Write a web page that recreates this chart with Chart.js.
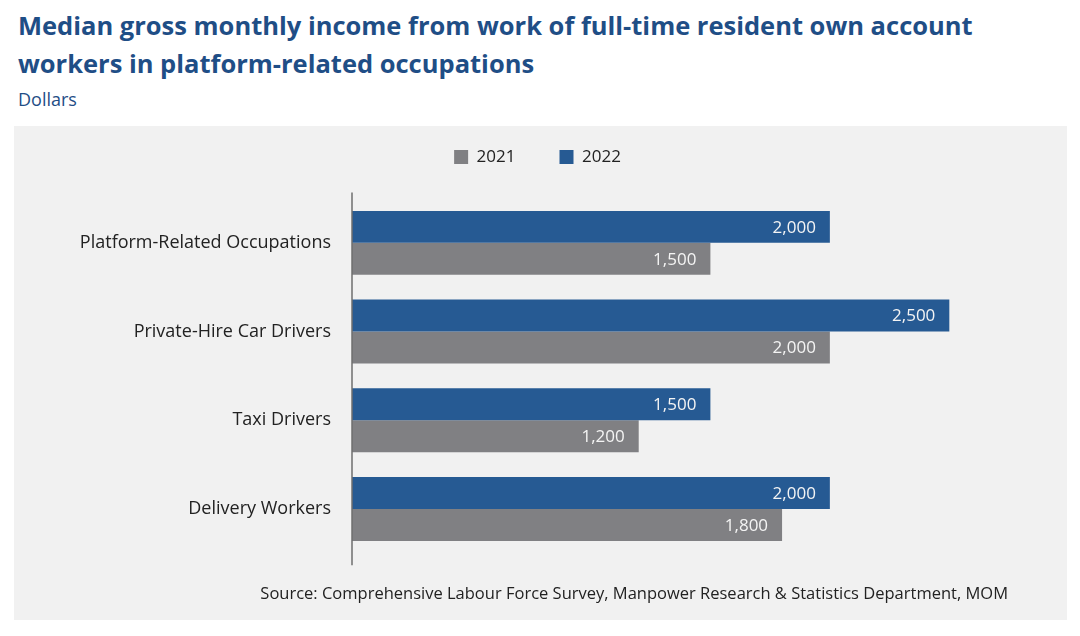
<!DOCTYPE html>
<html>
<head>
<meta charset="utf-8">
<script src="https://cdn.jsdelivr.net/npm/chart.js@4.4.1/dist/chart.umd.min.js"></script>
<style>
  body { margin: 0; background: #fff; font-family: "Open Sans", sans-serif; }
  #wrap { position: relative; width: 1080px; height: 636px; }
  #title { position: absolute; left: 18px; top: 6px; margin: 0; color: #1f4e86;
           font-size: 25.5px; font-weight: 700; line-height: 38px; white-space: nowrap; }
  #unit { position: absolute; left: 18px; top: 89px; color: #1f4e86; font-size: 18px; line-height: 20px; }
  #panel { position: absolute; left: 14px; top: 126px; width: 1053px; height: 494px; background: #f1f1f1; }
  #source { position: absolute; right: 59px; top: 457px; font-size: 16.5px; line-height: 20px; color: #222; white-space: nowrap; }
</style>
</head>
<body>
<div id="wrap">
  <h1 id="title">Median gross monthly income from work of full-time resident own account<br>workers in platform-related occupations</h1>
  <div id="unit">Dollars</div>
  <div id="panel">
    <canvas id="incomeChart" width="1053" height="494"></canvas>
    <div id="source">Source: Comprehensive Labour Force Survey, Manpower Research &amp; Statistics Department, MOM</div>
  </div>
</div>
<script>
const occupations = ['Platform-Related Occupations', 'Private-Hire Car Drivers', 'Taxi Drivers', 'Delivery Workers']
const income2021 = [1500, 2000, 1200, 1800]
const income2022 = [2000, 2500, 1500, 2000]

const blue = '#265a93'
const grey = '#808083'

// value labels drawn inside the end of each bar
const barLabels = {
    id: 'barLabels',
    afterDatasetsDraw(chart) {
        const ctx = chart.ctx
        ctx.save()
        ctx.font = '17px "Open Sans"'
        ctx.fillStyle = '#f4f4f4'
        ctx.textAlign = 'right'
        ctx.textBaseline = 'middle'
        chart.data.datasets.forEach((ds, i) => {
            chart.getDatasetMeta(i).data.forEach((bar, j) => {
                ctx.fillText(ds.data[j].toLocaleString('en-US'), bar.x - 14, bar.y + 1)
            })
        })
        ctx.restore()
    }
}

// vertical axis line, a bit longer than the category band
const axisLine = {
    id: 'axisLine',
    afterDatasetsDraw(chart) {
        const ctx = chart.ctx
        const x = chart.scales.x.getPixelForValue(0)
        ctx.save()
        ctx.strokeStyle = '#6e6e6e'
        ctx.lineWidth = 1.5
        ctx.beginPath()
        ctx.moveTo(x, chart.chartArea.top - 6)
        ctx.lineTo(x, chart.chartArea.bottom + 12)
        ctx.stroke()
        ctx.restore()
    }
}

// extra space under the legend
const legendMargin = {
    id: 'legendMargin',
    beforeInit(chart) {
        const fit = chart.legend.fit
        chart.legend.fit = function() {
            fit.bind(chart.legend)()
            this.height += 23
        }
    }
}

const ctx = document.getElementById('incomeChart').getContext('2d')
const myChart = new Chart(ctx, {
    type: 'bar',
    data: {
        labels: occupations,
        datasets: [
            { label: '2022', data: income2022, backgroundColor: blue },
            { label: '2021', data: income2021, backgroundColor: grey }
        ]
    },
    options: {
        indexAxis: 'y',
        responsive: false,
        animation: false,
        categoryPercentage: 0.72,
        barPercentage: 1.0,
        layout: { padding: { top: -21.5, right: 46, bottom: 66.7, left: 40 } },
        plugins: {
            legend: {
                reverse: true,
                labels: {
                    boxWidth: 14, boxHeight: 14, padding: 44,
                    color: '#222',
                    font: { family: 'Open Sans', size: 17 }
                }
            },
            tooltip: { enabled: false }
        },
        scales: {
            x: { display: false, min: 0, max: 2800 },
            y: {
                grid: { display: false, drawTicks: false },
                border: { display: false },
                ticks: { color: '#222', padding: 21, font: { family: 'Open Sans', size: 18 } },
                afterFit(scale) { scale.width = 298 }
            }
        }
    },
    plugins: [barLabels, axisLine, legendMargin]
})
</script>
</body>
</html>
